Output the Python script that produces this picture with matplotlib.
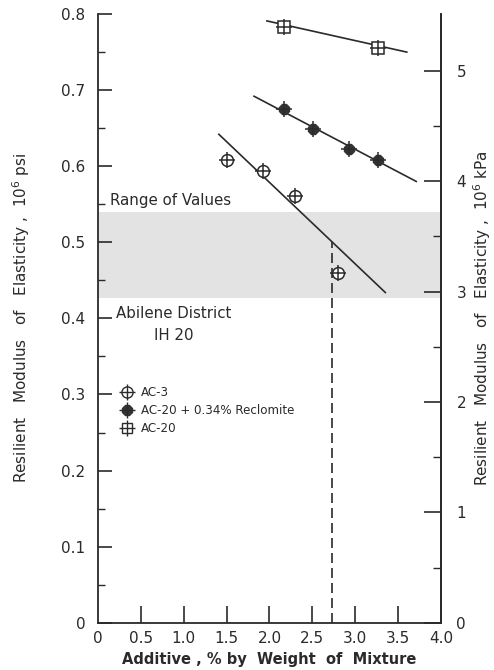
import numpy as np
import matplotlib
matplotlib.use("Agg")
import matplotlib.pyplot as plt
from matplotlib.lines import Line2D
from matplotlib.legend_handler import HandlerTuple

# Messwerte: Zusatzanteil [%] und Resilient Modulus [10^6 psi]
ac3_x = [1.50, 1.92, 2.30, 2.80]
ac3_y = [0.608, 0.594, 0.561, 0.460]
recl_x = [2.17, 2.51, 2.93, 3.26]
recl_y = [0.675, 0.649, 0.622, 0.608]
ac20_x = [2.17, 3.27]
ac20_y = [0.783, 0.756]

# Ausgleichsgeraden (Anfangs- und Endpunkt)
ac3_fit_x = [1.41, 3.35]
ac3_fit_y = [0.642, 0.434]
recl_fit_x = [1.82, 3.71]
recl_fit_y = [0.692, 0.580]
ac20_fit_x = [1.97, 3.60]
ac20_fit_y = [0.791, 0.750]

# Wertebereich Abilene District IH 20 und Ablesepunkt
band_lo, band_hi = 0.427, 0.540
read_x, read_y = 2.73, 0.50

x_ticks = [0, 0.5, 1.0, 1.5, 2.0, 2.5, 3.0, 3.5, 4.0]
x_labels = ["0", "0.5", "1.0", "1.5", "2.0", "2.5", "3.0", "3.5", "4.0"]
y_ticks = [0, 0.1, 0.2, 0.3, 0.4, 0.5, 0.6, 0.7, 0.8]
y_labels = ["0", "0.1", "0.2", "0.3", "0.4", "0.5", "0.6", "0.7", "0.8"]
kpa_ticks = [0, 1, 2, 3, 4, 5]
PSI_TO_KPA = 6.894757

ink = "#2a2a2a"
plt.rcParams["font.family"] = ["DejaVu Sans"]

fig = plt.figure(figsize=(4.94, 6.70), dpi=100)
ax = fig.add_axes([0.198, 0.0706, 0.695, 0.9084])

# Grauer Bereich
ax.axhspan(band_lo, band_hi, color="#e3e3e3", lw=0, zorder=0)

# Geraden
for fx, fy in [(ac3_fit_x, ac3_fit_y), (recl_fit_x, recl_fit_y), (ac20_fit_x, ac20_fit_y)]:
    ax.plot(fx, fy, color=ink, lw=1.2, zorder=2)

# Senkrechte Ablesehilfe
ax.plot([read_x, read_x], [0, read_y], color=ink, lw=1.2, ls=(0, (6, 3)), zorder=2)

# Messpunkte
ax.plot(ac3_x, ac3_y, "o", ms=8.5, mfc="white", mec=ink, mew=1.1, zorder=3)
ax.plot(ac3_x, ac3_y, "+", ms=12, mec=ink, mew=1.1, zorder=4)
ax.plot(recl_x, recl_y, "8", ms=8.5, mfc="#333333", mec="#333333", zorder=3)
ax.plot(recl_x, recl_y, "+", ms=12, mec=ink, mew=1.1, zorder=4)
ax.plot(ac20_x, ac20_y, "s", ms=8, mfc="white", mec=ink, mew=1.1, zorder=3)
ax.plot(ac20_x, ac20_y, "+", ms=12, mec=ink, mew=1.1, zorder=4)

# Beschriftungen im Diagramm
ax.text(0.14, 0.555, "Range of Values", fontsize=10.8, color=ink, va="center")
ax.text(0.21, 0.407, "Abilene District", fontsize=10.8, color=ink, va="center")
ax.text(0.88, 0.378, "IH 20", fontsize=10.8, color=ink, va="center", ha="center")

# Legende
h_ac3 = (Line2D([], [], ls="none", marker="o", ms=8, mfc="white", mec=ink, mew=1.0),
         Line2D([], [], ls="none", marker="+", ms=11, mec=ink, mew=1.0))
h_recl = (Line2D([], [], ls="none", marker="8", ms=8.5, mfc="#333333", mec="#333333"),
          Line2D([], [], ls="none", marker="+", ms=11, mec=ink, mew=1.0))
h_ac20 = (Line2D([], [], ls="none", marker="s", ms=7.5, mfc="white", mec=ink, mew=1.0),
          Line2D([], [], ls="none", marker="+", ms=11, mec=ink, mew=1.0))
ax.legend([h_ac3, h_recl, h_ac20], ["AC-3", "AC-20 + 0.34% Reclomite", "AC-20"],
          handler_map={tuple: HandlerTuple(ndivide=1, pad=0)},
          loc="upper left", bbox_to_anchor=(0.035, 0.407), frameon=False,
          fontsize=8.6, handlelength=1.0, handletextpad=0.7, labelspacing=0.45,
          labelcolor=ink)

# Achsen
ax.set_xlim(0, 4.0)
ax.set_ylim(0, 0.8)
ax.spines["top"].set_visible(False)
for s in ["left", "bottom", "right"]:
    ax.spines[s].set_color(ink)
    ax.spines[s].set_linewidth(1.3)

ax.set_xticks(x_ticks[1:-1])
ax.set_xticklabels(x_labels[1:-1])
ax.set_yticks(y_ticks)
ax.set_yticklabels(y_labels)
ax.set_yticks(np.arange(0.05, 0.8, 0.1), minor=True)
ax.tick_params(axis="x", direction="in", length=12, width=1.2, colors=ink,
               labelsize=11, pad=6)
ax.tick_params(axis="y", direction="in", length=10, width=1.2, colors=ink,
               labelsize=11, pad=9)
ax.tick_params(axis="y", which="minor", direction="in", length=5, width=1.0, colors=ink)
ax.text(0, -0.014, "0", transform=ax.get_xaxis_transform(), fontsize=11,
        ha="center", va="top", color=ink)
ax.text(4.0, -0.014, "4.0", transform=ax.get_xaxis_transform(), fontsize=11,
        ha="center", va="top", color=ink)

# Rechte Achse in kPa
sec = ax.secondary_yaxis("right", functions=(lambda v: v * PSI_TO_KPA,
                                             lambda v: v / PSI_TO_KPA))
sec.set_yticks(kpa_ticks)
sec.set_yticks(np.arange(0.5, 5.5, 1.0), minor=True)
sec.spines["right"].set_color(ink)
sec.spines["right"].set_linewidth(1.3)
sec.tick_params(axis="y", direction="in", length=12, width=1.2, colors=ink,
                labelsize=11, pad=11)
sec.tick_params(axis="y", which="minor", direction="in", length=6, width=1.0, colors=ink)
sec.set_ylabel("Resilient   Modulus   of   Elasticity ,  10$^6$ kPa", fontsize=11,
               color=ink, labelpad=4)

ax.set_xlabel("Additive , % by  Weight  of  Mixture", fontsize=10.5, color=ink,
              fontweight="bold", labelpad=4)
ax.set_ylabel("Resilient   Modulus   of   Elasticity ,  10$^6$ psi", fontsize=11,
              color=ink, labelpad=21)

fig.savefig("out.png", dpi=100)
